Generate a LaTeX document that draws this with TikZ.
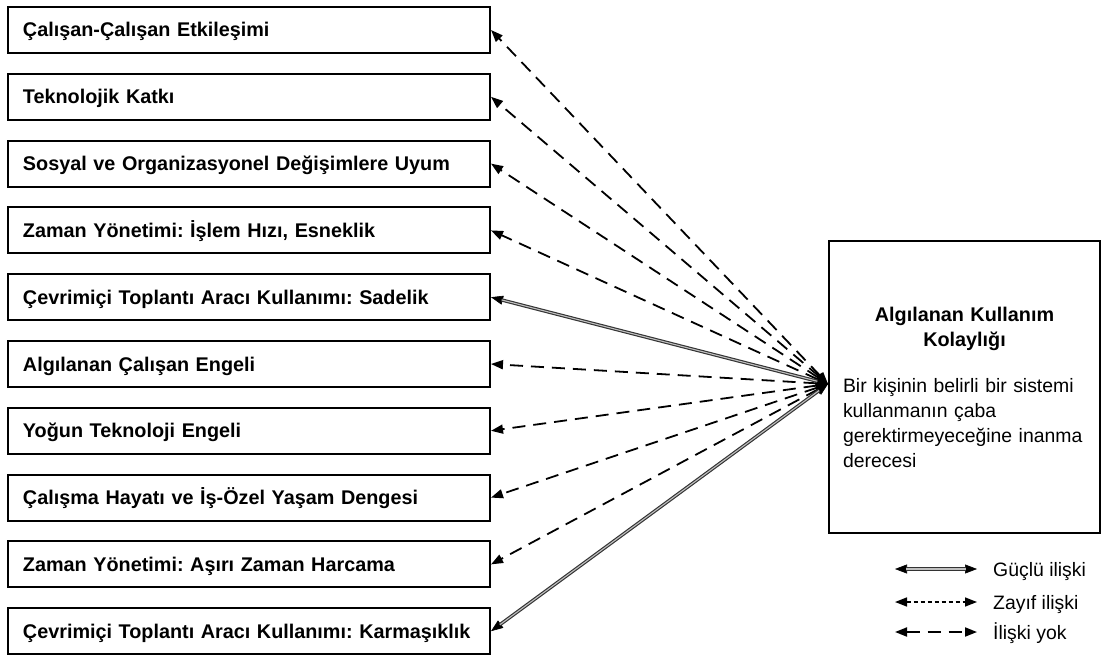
\documentclass[tikz,border=0pt]{standalone}
\usepackage{fontspec}
\setmainfont{Liberation Sans}
\usetikzlibrary{arrows.meta}
\frenchspacing
\begin{document}
\begin{tikzpicture}[x=1pt,y=-1pt,
  txt/.style={font=\fontsize{19.4}{25}\selectfont},
  factor/.style={draw, line width=2pt, minimum height=46pt, text width=452pt,
    inner xsep=15pt, inner ysep=0pt, align=left, text height=14pt, text depth=0pt,
    font=\bfseries\fontsize{19.8}{25}\selectfont},
  bothtips/.style={arrows={Triangle[length=12pt,width=9pt]-Triangle[length=12pt,width=9pt]}},
  norel/.style={bothtips, line width=1.8pt, dash pattern=on 13pt off 8pt},
  weakrel/.style={bothtips, line width=1.5pt, dash pattern=on 4pt off 3pt},
  strongtips/.style={bothtips, line width=0.6pt},
  strongouter/.style={draw=black!80, line width=3.4pt, shorten <=11pt, shorten >=11pt},
  stronginner/.style={draw=black!25, line width=1.1pt, shorten <=11pt, shorten >=11pt},
  legendtext/.style={txt, anchor=west, text height=14pt, text depth=0pt, inner sep=0pt}
]
\useasboundingbox (0,0) rectangle (1105,655);

% factor boxes on the left
\node[factor] (f1)  at (249,30.0)  {Çalışan-Çalışan Etkileşimi};
\node[factor] (f2)  at (249,96.8)  {Teknolojik Katkı};
\node[factor] (f3)  at (249,163.6) {Sosyal ve Organizasyonel Değişimlere Uyum};
\node[factor] (f4)  at (249,230.4) {Zaman Yönetimi: İşlem Hızı, Esneklik};
\node[factor] (f5)  at (249,297.2) {Çevrimiçi Toplantı Aracı Kullanımı: Sadelik};
\node[factor] (f6)  at (249,364.0) {Algılanan Çalışan Engeli};
\node[factor] (f7)  at (249,430.8) {Yoğun Teknoloji Engeli};
\node[factor] (f8)  at (249,497.6) {Çalışma Hayatı ve İş-Özel Yaşam Dengesi};
\node[factor] (f9)  at (249,564.4) {Zaman Yönetimi: Aşırı Zaman Harcama};
\node[factor] (f10) at (249,631.2) {Çevrimiçi Toplantı Aracı Kullanımı: Karmaşıklık};

% target construct
\node[draw, line width=2pt, minimum width=271pt, minimum height=292pt, text width=243pt,
  inner xsep=14pt, txt] (peou) at (964.5,387)
  {{\centering\bfseries\fontsize{19.8}{25}\selectfont Algılanan Kullanım\\ Kolaylığı\par}\vspace{21pt}%
   \raggedright Bir kişinin belirli bir sistemi\\ kullanmanın çaba\\ gerektirmeyeceğine inanma\\ derecesi};
\coordinate (hub) at ([yshift=3pt]peou.west);

% relations
\foreach \f in {f1,f2,f3,f4,f6,f7,f8,f9}
  \draw[norel] (hub) -- (\f.east);
\foreach \f in {f5,f10}{
  \draw[strongtips] (hub) -- (\f.east);
  \draw[strongouter] (hub) -- (\f.east);
  \draw[stronginner] (hub) -- (\f.east);
}

% legend
\coordinate (l1a) at (895,569); \coordinate (l1b) at (977,569);
\coordinate (l2a) at (895,602); \coordinate (l2b) at (977,602);
\coordinate (l3a) at (895,632); \coordinate (l3b) at (977,632);
\draw[strongtips] (l1a) -- (l1b);
\draw[strongouter] (l1a) -- (l1b);
\draw[stronginner] (l1a) -- (l1b);
\draw[weakrel] (l2a) -- (l2b);
\draw[norel] (l3a) -- (l3b);
\node[legendtext] (t1) at (993,569) {Güçlü ilişki};
\node[legendtext] (t2) at (993,602) {Zayıf ilişki};
\node[legendtext] (t3) at (993,632) {İlişki yok};
\end{tikzpicture}
\end{document}
